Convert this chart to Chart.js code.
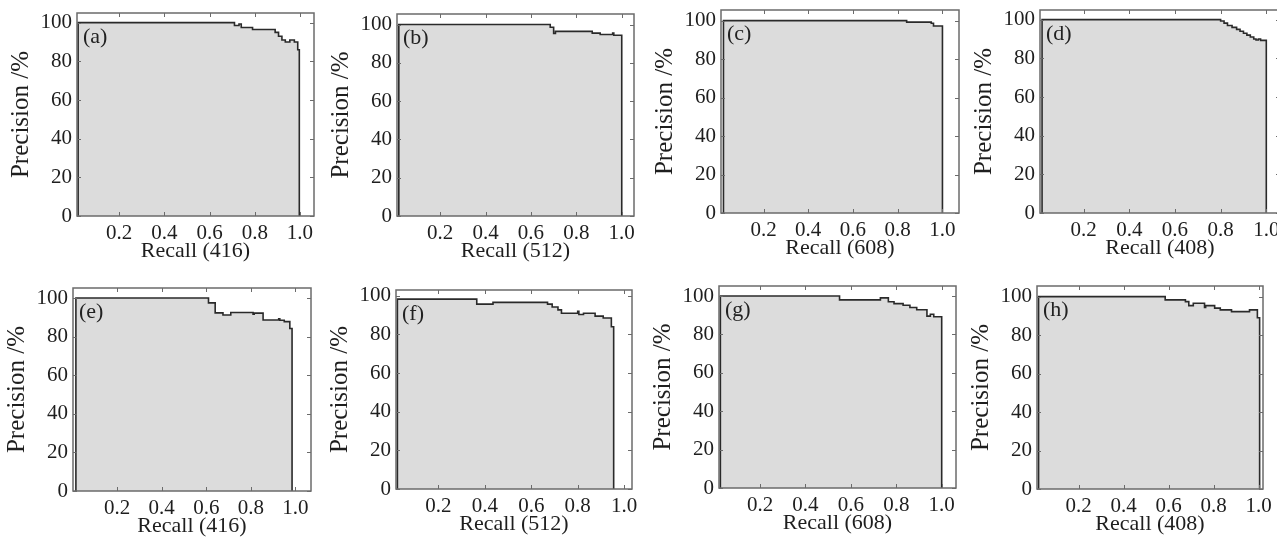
<!DOCTYPE html>
<html>
<head>
<meta charset="utf-8">
<script src="https://cdn.jsdelivr.net/npm/chart.js@4"></script>
<style>
  html, body { margin: 0; padding: 0; background: #fff; }
  body { width: 1277px; height: 540px; overflow: hidden; position: relative; }
  canvas { position: absolute; }
</style>
</head>
<body>
<script>
// panel letters and sample counts shown in the x titles
const panelLetters = ['(a)', '(b)', '(c)', '(d)', '(e)', '(f)', '(g)', '(h)'];
const sampleCounts = [416, 512, 608, 408, 416, 512, 608, 408];

// PR curves (recall, precision %)
const recallA = [0.018, 0.018, 0.71, 0.73, 0.74, 0.79, 0.89, 0.905, 0.92, 0.935, 0.955, 0.975, 0.99, 0.997];
const precisionA = [0, 100, 98.5, 99.3, 97.5, 96.5, 95, 93, 91, 90, 91, 90, 86, 0];
const recallB = [0.018, 0.018, 0.685, 0.70, 0.708, 0.87, 0.905, 0.96, 0.965, 1.0];
const precisionB = [0, 100, 98.6, 95.3, 96.4, 95.5, 94.8, 95.6, 94.4, 0];
const recallC = [0.021, 0.021, 0.84, 0.95, 0.96, 1.0];
const precisionC = [0, 100, 99.2, 98.6, 97.2, 0];
const recallD = [0.018, 0.018, 0.80, 0.815, 0.83, 0.85, 0.87, 0.885, 0.90, 0.915, 0.93, 0.945, 0.955, 0.965, 0.975, 1.0];
const precisionD = [0, 100, 99.3, 98.2, 97, 96, 95, 94, 93, 92, 91, 90, 89.5, 90, 89.3, 0];
const recallE = [0.015, 0.015, 0.61, 0.64, 0.675, 0.71, 0.81, 0.815, 0.855, 0.925, 0.93, 0.95, 0.975, 0.985];
const precisionE = [0, 100, 97.5, 92.3, 91.2, 92.5, 91.6, 92.2, 88.6, 89.2, 88.5, 87.8, 84.2, 0];
const recallF = [0.023, 0.023, 0.365, 0.435, 0.67, 0.69, 0.715, 0.73, 0.80, 0.805, 0.825, 0.875, 0.91, 0.945, 0.955];
const precisionF = [0, 98.3, 95.7, 96.6, 95.7, 94.2, 92.7, 91, 92, 90.3, 91, 89.5, 88.5, 84, 0];
const recallG = [0.025, 0.025, 0.55, 0.73, 0.765, 0.79, 0.83, 0.86, 0.89, 0.935, 0.95, 0.965, 1.0];
const precisionG = [0, 100, 98, 99, 97, 96, 95.2, 94, 92.8, 89.5, 90.5, 89.2, 0];
const recallH = [0.022, 0.022, 0.585, 0.675, 0.69, 0.71, 0.76, 0.765, 0.805, 0.83, 0.88, 0.96, 0.995, 1.005];
const precisionH = [0, 100, 98.3, 97.4, 95.3, 96.5, 94.3, 95.3, 94, 93.1, 92.2, 93.1, 89, 0];

const recalls = [recallA, recallB, recallC, recallD, recallE, recallF, recallG, recallH];
const precisions = [precisionA, precisionB, precisionC, precisionD, precisionE, precisionF, precisionG, precisionH];

// axis ranges per panel
const xRanges = [[0.013, 1.062], [0.01, 1.054], [0.01, 1.074], [0.009, 1.06], [0.002, 1.07], [0.017, 1.034], [0.019, 1.063], [0.015, 1.02]];
const yMaxes = [105, 105.5, 105.5, 105, 105.2, 103, 105.2, 105.5];

// layout: plot box [left, top, right, bottom] in page pixels
const plotBoxes = [
  [77, 13, 314, 216], [397, 14, 634, 216], [721, 10, 959, 213], [1040, 10, 1280, 213],
  [73, 288, 311, 491], [396, 290, 632, 489], [719, 286, 956, 488], [1037, 286, 1263, 489]
];

const FONT = '"Liberation Serif", "Times New Roman", serif';
const AXIS_W = 80, AXIS_H = 48, PAD_TOP = 12, PAD_RIGHT = 20;

// frame with inward ticks and the panel letter
const framePlugin = {
  id: 'frame',
  afterDraw(chart, args, opts) {
    const { ctx, chartArea: a, scales: { x, y } } = chart;
    ctx.save();
    ctx.strokeStyle = '#6b6b6b';
    ctx.lineWidth = 1.5;
    ctx.strokeRect(a.left, a.top, a.right - a.left, a.bottom - a.top);
    ctx.lineWidth = 1;
    ctx.beginPath();
    x.ticks.forEach(t => {
      const px = Math.round(x.getPixelForValue(t.value)) + 0.5;
      ctx.moveTo(px, a.bottom); ctx.lineTo(px, a.bottom - 4);
      ctx.moveTo(px, a.top); ctx.lineTo(px, a.top + 4);
    });
    y.ticks.forEach(t => {
      const py = Math.round(y.getPixelForValue(t.value)) + 0.5;
      ctx.moveTo(a.left, py); ctx.lineTo(a.left + 4, py);
      ctx.moveTo(a.right, py); ctx.lineTo(a.right - 4, py);
    });
    ctx.stroke();
    ctx.fillStyle = '#222';
    ctx.font = '22px ' + FONT;
    ctx.textBaseline = 'top';
    ctx.textAlign = 'left';
    ctx.fillText(opts.letter, a.left + 6, a.top + 13);
    ctx.restore();
  }
};

plotBoxes.forEach((box, i) => {
  const [l, t, r, b] = box;
  const cv = document.createElement('canvas');
  const w = (r - l) + AXIS_W + PAD_RIGHT;
  const h = (b - t) + PAD_TOP + AXIS_H;
  cv.width = w; cv.height = h;
  cv.style.width = w + 'px'; cv.style.height = h + 'px';
  cv.style.left = (l - AXIS_W) + 'px';
  cv.style.top = (t - PAD_TOP) + 'px';
  document.body.appendChild(cv);

  const points = recalls[i].map((rc, k) => ({ x: rc, y: precisions[i][k] }));

  new Chart(cv.getContext('2d'), {
    type: 'line',
    data: {
      datasets: [{
        data: points,
        stepped: 'before',
        borderColor: '#2a2a2a',
        borderWidth: 1.6,
        backgroundColor: '#dcdcdc',
        fill: 'origin',
        pointRadius: 0,
        tension: 0
      }]
    },
    options: {
      responsive: false,
      animation: false,
      events: [],
      layout: { padding: { left: 0, top: PAD_TOP, right: PAD_RIGHT, bottom: 0 } },
      plugins: {
        legend: { display: false },
        tooltip: { enabled: false },
        frame: { letter: panelLetters[i] }
      },
      scales: {
        x: {
          type: 'linear',
          min: xRanges[i][0],
          max: xRanges[i][1],
          grid: { display: false, drawTicks: false },
          border: { display: false },
          ticks: {
            stepSize: 0.2,
            includeBounds: false,
            autoSkip: false,
            maxRotation: 0,
            padding: 5,
            color: '#1e1e1e',
            font: { family: FONT, size: 21 },
            callback: v => v.toFixed(1)
          },
          title: {
            display: true,
            text: 'Recall (' + sampleCounts[i] + ')',
            color: '#1e1e1e',
            font: { family: FONT, size: 22 },
            padding: { top: 0, bottom: 0 }
          },
          afterFit: s => { s.height = AXIS_H; s.paddingLeft = 0; s.paddingRight = 0; }
        },
        y: {
          min: 0,
          max: yMaxes[i],
          grid: { display: false, drawTicks: false },
          border: { display: false },
          ticks: {
            stepSize: 20,
            includeBounds: false,
            autoSkip: false,
            padding: 5,
            color: '#1e1e1e',
            font: { family: FONT, size: 21 }
          },
          title: {
            display: true,
            text: 'Precision /%',
            color: '#1e1e1e',
            font: { family: FONT, size: 25 },
            padding: { top: 9, bottom: 0 }
          },
          afterFit: s => { s.width = AXIS_W; s.paddingTop = 0; s.paddingBottom = 0; }
        }
      }
    },
    plugins: [framePlugin]
  });
});
</script>
</body>
</html>
